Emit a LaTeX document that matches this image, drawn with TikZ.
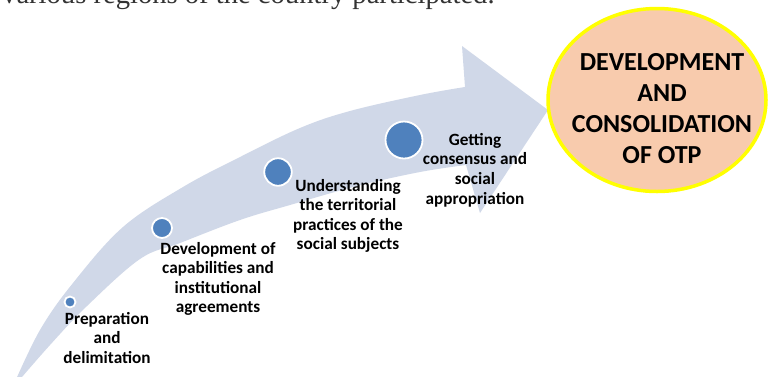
\documentclass[tikz,border=0pt]{standalone}
\usepackage{fontspec}
\setmainfont{Carlito}
\newfontfamily\serifbody{Liberation Serif}
\usetikzlibrary{shapes.geometric}
\definecolor{bandfill}{HTML}{D0D8E8}
\definecolor{dotfill}{HTML}{4F81BD}
\definecolor{goalfill}{HTML}{F8CBAD}
\definecolor{goalline}{HTML}{FFFF00}
\tikzset{
  dot/.style={circle, fill=dotfill, draw=white, line width=1.8pt, inner sep=0pt},
  steplabel/.style={align=center, inner sep=0pt, font=\bfseries\fontsize{17.2}{19.6}\selectfont},
  goaltext/.style={align=center, inner sep=0pt, font=\bfseries\fontsize{26}{31}\selectfont},
}
\begin{document}
\begin{tikzpicture}[x=1pt,y=-1pt]
\clip (0,0) rectangle (768,376);
\fill[white] (0,0) rectangle (768,376);
% cut-off line of body text above the figure
\node[anchor=base west, inner sep=0pt, text=black!80, font=\serifbody\fontsize{28.6}{34}\selectfont] (bodyline) at (2,3.5) {various regions of the country participated.};
% curved arrow
\fill[bandfill]
  plot[smooth, tension=0.6] coordinates {(14,384) (40,330) (73,283) (123,227) (183,187) (240,157) (300,128) (350,111) (420,95) (465,87)}
  -- (462,46) -- (548,110) -- (480,213) -- (466,165)
  -- plot[smooth, tension=0.6] coordinates {(466,165) (420,172) (357,186) (290,205) (240,220) (180,243) (140,259) (87,306) (50,345) (16,384)}
  -- cycle;
% dots
\node[dot, minimum size=11pt] (d1) at (70,302) {};
\node[dot, minimum size=20pt] (d2) at (162,228) {};
\node[dot, minimum size=27.5pt] (d3) at (278,172) {};
\node[dot, minimum size=37pt] (d4) at (404,140) {};
% labels
\node[steplabel] (l1) at (107,338) {Preparation\\and\\delimitation};
\node[steplabel] (l2) at (218,279) {Development of\\capabilities and\\institutional\\agreements};
\node[steplabel] (l3) at (348,216) {Understanding\\the territorial\\practices of the\\social subjects};
\node[steplabel] (l4) at (475,170) {Getting\\consensus and\\social\\appropriation};
% goal ellipse
\node[ellipse, fill=goalfill, draw=goalline, line width=3.5pt, minimum width=218pt, minimum height=183pt, inner sep=0pt] (goal) at (657,100) {};
\node[goaltext] (goalt) at (662,109) {DEVELOPMENT\\AND\\CONSOLIDATION\\OF OTP};
\end{tikzpicture}
\end{document}
